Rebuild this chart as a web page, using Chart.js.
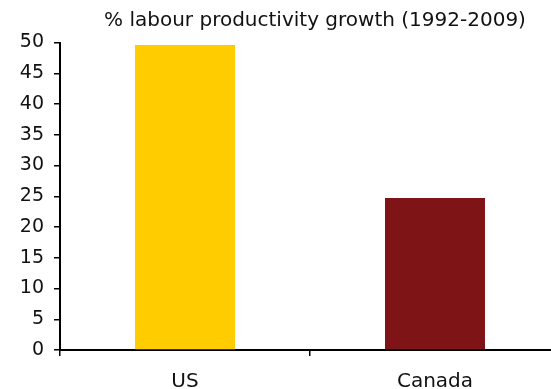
<!DOCTYPE html>
<html>
<head>
<meta charset="utf-8">
<script src="https://cdn.jsdelivr.net/npm/chart.js@4/dist/chart.umd.min.js"></script>
<style>
html,body{margin:0;padding:0;overflow:hidden;background:#fff;}
#wrap{width:565px;height:389px;position:relative;}
</style>
</head>
<body>
<div id="wrap"><canvas id="c"></canvas></div>
<script>
const titleText = "% labour productivity growth (1992-2009)";
const categories = ["US", "Canada"];
const growthValues = [49.6, 24.7];
const barColors = ["#FFCC00", "#7F1416"];
const yMin = 0, yMax = 50, yStep = 5;

Chart.defaults.font.family = "'DejaVu Sans', sans-serif";

const titlePlugin = {
  id: 'customTitle',
  afterDraw(chart) {
    const ctx = chart.ctx;
    ctx.save();
    ctx.font = "20px 'DejaVu Sans', sans-serif";
    ctx.fillStyle = '#111';
    ctx.textAlign = 'center';
    ctx.textBaseline = 'middle';
    ctx.fillText(titleText, 315, 21);
    ctx.restore();
  }
};

new Chart(document.getElementById('c'), {
  type: 'bar',
  data: {
    labels: categories,
    datasets: [{
      data: growthValues,
      backgroundColor: barColors,
      borderWidth: 0,
      barPercentage: 0.4,
      categoryPercentage: 1.0
    }]
  },
  options: {
    responsive: true,
    maintainAspectRatio: false,
    animation: false,
    devicePixelRatio: 1,
    layout: { padding: { top: 42.5, right: 5, left: 0, bottom: 0 } },
    plugins: { legend: { display: false }, title: { display: false }, tooltip: { enabled: false } },
    scales: {
      x: {
        offset: true,
        afterFit(s) { s.height = 39; },
        border: { display: true, color: '#000', width: 2 },
        grid: { display: true, offset: true, drawOnChartArea: false, drawTicks: true, tickLength: 6, color: '#000', lineWidth: 1.5 },
        ticks: { color: '#111', font: { size: 20 }, padding: 14 }
      },
      y: {
        min: yMin, max: yMax,
        afterFit(s) { s.width = 60; },
        border: { display: true, color: '#000', width: 2 },
        grid: { display: true, drawOnChartArea: false, drawTicks: true, tickLength: 6, color: '#000', lineWidth: 1.5 },
        ticks: { stepSize: yStep, color: '#111', font: { size: 19 }, padding: 10 }
      }
    }
  },
  plugins: [titlePlugin]
});
</script>
</body>
</html>
